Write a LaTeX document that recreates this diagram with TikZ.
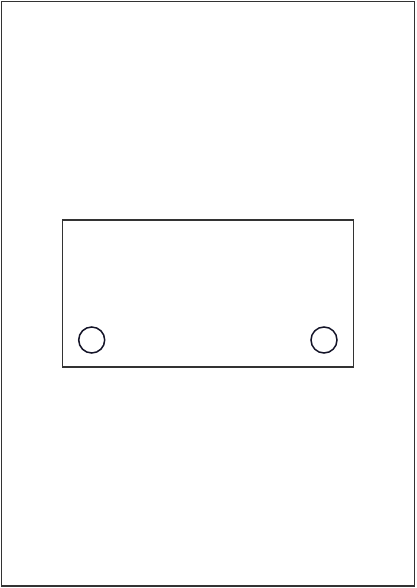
\documentclass[tikz,border=0pt]{standalone}
\definecolor{edge}{HTML}{333333}
\definecolor{hole}{HTML}{141428}
\begin{document}
\begin{tikzpicture}[x=1pt,y=-1pt,
  frame/.style={draw=edge,line width=1.4pt},
  holestyle/.style={draw=hole,line width=1.5pt}]
\useasboundingbox (0,0) rectangle (416,588);
\draw[frame] (1.5,1.5) rectangle (414.5,586);
\draw[frame] (62.3,220) rectangle (353.3,367);
\draw[holestyle] (91.7,340) circle (13);
\draw[holestyle] (324,340) circle (13);
\end{tikzpicture}
\end{document}
